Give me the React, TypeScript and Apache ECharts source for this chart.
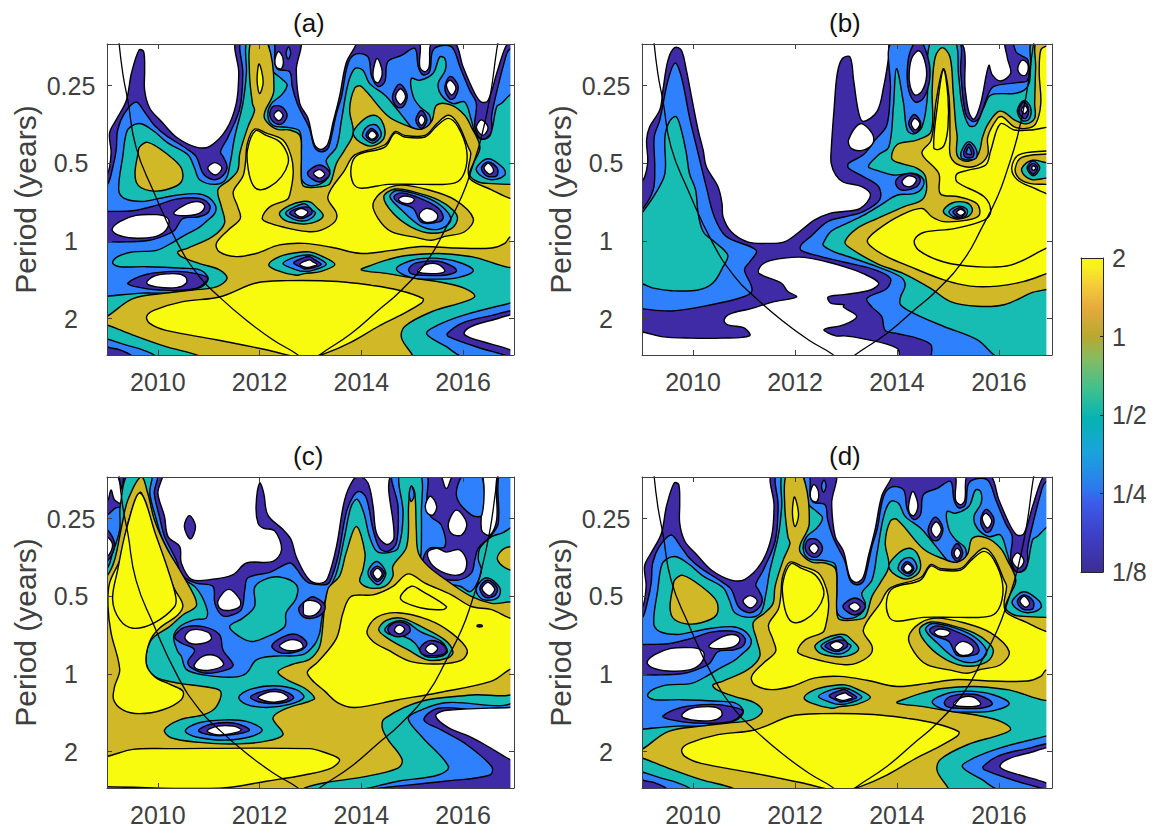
import React, { useEffect, useRef } from "react";
import * as echarts from "echarts";

// Levels of the filled contours (coherence 1/8, 1/4, 1/2, 1, 2, and below 1/8)
const D = 0, B = 1, T = 2, O = 3, Y = 4, W = 5;
const levelColors = ["#3f2ba6", "#2f80fd", "#17bdb3", "#d0b827", "#f9fb0e", "#ffffff"];

const yearTicks = [2010, 2012, 2014, 2016];
const periodTicks = [0.25, 0.5, 1, 2];
const barTicks = [-3, -2, -1, 0, 1];
const barStops = [
  [0, "#3d2d95"], [0.12, "#3e3fc8"], [0.22, "#3c5ce8"], [0.27, "#2c7bee"], [0.38, "#1aa3dc"], [0.49, "#05b3b2"],
  [0.58, "#3dc190"], [0.68, "#86bb62"], [0.75, "#b8a82f"], [0.84, "#e5aa3c"], [0.92, "#f6cf36"], [0.97, "#f8ee20"], [1, "#f8f812"],
];

// Cone of influence: year, log2(period)
const coiLeft = [2009.23, -2.6, 2009.31, -2.16, 2009.41, -1.81, 2009.57, -1.21, 2009.9, -0.66, 2010.39, 0.03, 2010.82, 0.46, 2011.21, 0.72, 2011.74, 1.02, 2012.26, 1.27, 2012.72, 1.45, 2012.9, 1.55];
const coiRight = [2013.0, 1.55, 2013.21, 1.45, 2013.8, 1.19, 2014.3, 0.91, 2014.79, 0.63, 2015.31, 0.24, 2015.67, -0.18, 2015.97, -0.57, 2016.16, -0.91, 2016.36, -1.34, 2016.53, -1.86, 2016.66, -2.46, 2016.7, -2.6];

// Panel (a): contour outlines as year, log2(period)
const aDark = [2008.82,-0.85,2009,-0.85,2009.08,-1.13,2009.05,-1.39,2009.18,-1.56,2009.38,-1.81,2009.48,-2.16,2009.63,-2.46,2009.72,-2.44,2009.74,-2.2,2009.74,-1.94,2009.84,-1.71,2010.07,-1.54,2010.36,-1.34,2010.75,-1.21,2011.02,-1.22,2011.34,-1.43,2011.54,-1.77,2011.59,-2.16,2011.57,-2.59,2012.77,-2.59,2012.72,-2.2,2012.79,-1.77,2012.95,-1.58,2013.08,-1.24,2013.21,-1.18,2013.34,-1.25,2013.44,-1.52,2013.57,-1.86,2013.7,-2.29,2013.84,-2.46,2013.97,-2.57,2015.1,-2.57,2015.15,-2.24,2015.25,-2.18,2015.33,-2.24,2015.39,-2.57,2015.82,-2.57,2016,-2.24,2016.23,-1.9,2016.36,-1.79,2016.49,-1.81,2016.66,-2.16,2016.82,-2.48,2016.92,-2.57,2017.1,-2.6,2017.1,1.6,2008.82,1.6];
const aBlue = [2008.82,-0.7,2009,-0.72,2009.11,-0.94,2009.18,-1.17,2009.21,-1.43,2009.34,-1.64,2009.57,-1.79,2009.74,-1.66,2009.93,-1.49,2010.16,-1.36,2010.56,-1.19,2010.75,-1.09,2010.87,-0.89,2010.95,-0.83,2011.12,-0.79,2011.29,-0.85,2011.36,-0.96,2011.28,-1.09,2011.23,-1.15,2011.38,-1.34,2011.61,-1.71,2011.67,-2.16,2011.65,-2.59,2012.25,-2.59,2012.3,-2.29,2012.36,-2.21,2012.59,-2.18,2012.64,-1.99,2012.74,-1.77,2012.85,-1.62,2012.98,-1.45,2013.08,-1.21,2013.21,-1.15,2013.34,-1.19,2013.41,-1.34,2013.51,-1.64,2013.61,-1.86,2013.74,-2.29,2013.9,-2.41,2014.13,-2.37,2014.2,-2.12,2014.33,-1.99,2014.46,-2.05,2014.52,-2.31,2014.79,-2.39,2015.05,-2.48,2015.12,-2.24,2015.21,-2.14,2015.34,-2.18,2015.41,-2.46,2015.64,-2.52,2015.8,-2.48,2015.94,-2.24,2016.13,-1.94,2016.26,-1.77,2016.23,-1.47,2016.36,-1.31,2016.55,-1.39,2016.56,-1.6,2016.62,-1.81,2016.82,-2.33,2016.9,-2.46,2017.08,-2.5,2017.1,1.6,2009.51,1.6,2009.51,1.49,2009.25,1.4,2009,1.36,2008.82,1.25];
const aTeal = [2009.23,-0.66,2009.31,-1.09,2009.38,-1.39,2009.48,-1.48,2009.67,-1.51,2009.93,-1.41,2010.2,-1.26,2010.59,-1.11,2010.72,-0.94,2010.82,-0.79,2011.12,-0.73,2011.33,-0.79,2011.42,-1,2011.51,-1.34,2011.67,-1.77,2011.74,-2.16,2011.76,-2.59,2012.13,-2.59,2012.25,-2.2,2012.43,-2.09,2012.54,-2.01,2012.43,-1.88,2012.23,-1.77,2012.16,-1.62,2012.26,-1.49,2012.59,-1.46,2012.79,-1.41,2012.82,-1.09,2012.82,-0.81,2012.95,-0.72,2013.18,-0.73,2013.34,-0.81,2013.38,-0.91,2013.31,-1.04,2013.51,-1.21,2013.61,-1.56,2013.74,-2.03,2013.87,-2.22,2014.03,-2.2,2014.16,-2.03,2014.46,-1.88,2014.66,-1.73,2014.89,-1.54,2015.02,-1.44,2015.18,-1.41,2015.33,-1.46,2015.34,-1.62,2015.15,-1.73,2015.02,-1.86,2014.98,-2.09,2015.15,-2.07,2015.41,-2.16,2015.54,-2.37,2015.64,-2.35,2015.65,-2.2,2015.51,-2.03,2015.57,-1.88,2015.8,-1.77,2016.03,-1.79,2016.16,-1.56,2016.24,-1.39,2016.36,-1.31,2016.53,-1.36,2016.66,-1.73,2016.75,-1.77,2016.92,-1.88,2017.08,-1.94,2017.1,1.6,2009.97,1.6,2009.97,1.49,2009.7,1.4,2009.38,1.34,2009,1.26,2008.82,1.23,2008.82,0.72,2009,0.71,2009.7,0.67,2010.16,0.67,2010.49,0.64,2010.79,0.61,2010.95,0.54,2010.98,0.46,2010.82,0.37,2010.49,0.35,2009.77,0.33,2009.25,0.33,2009.11,0.28,2009.21,0.2,2009.51,0.14,2009.97,0.12,2010.26,0.03,2010.49,-0.06,2010.82,-0.18,2010.95,-0.25,2011.12,-0.36,2011.13,-0.46,2010.98,-0.57,2010.75,-0.61,2010.36,-0.59,2010.03,-0.55,2009.7,-0.51,2009.34,-0.55];
const aOlive = [2011.84,-2.59,2011.8,-2.16,2011.86,-1.77,2011.9,-1.68,2011.77,-1.47,2011.61,-1.13,2011.57,-0.91,2011.41,-0.79,2011.18,-0.66,2011.25,-0.44,2011.31,-0.23,2011.08,-0.06,2010.59,0.09,2010.39,0.14,2010.46,0.2,2010.82,0.29,2011.21,0.37,2011.36,0.48,2011.15,0.59,2010.69,0.63,2010.16,0.67,2009.51,0.74,2009,0.97,2008.82,1,2008.82,1.06,2009,1.08,2009.51,1.21,2010.16,1.36,2010.85,1.49,2010.9,1.6,2015.02,1.6,2015.02,1.49,2014.79,1.25,2014.85,1.1,2015.38,0.91,2016.03,0.78,2016.23,0.71,2016.03,0.61,2015.64,0.54,2015.05,0.48,2014.52,0.42,2014,0.37,2014.2,0.31,2014.52,0.24,2014.85,0.19,2015.51,0.16,2016.16,0.2,2017.08,0.3,2017.08,-0.74,2016.92,-0.73,2016.56,-0.74,2016.3,-0.76,2016.13,-0.85,2016.2,-1,2016.33,-1.21,2016.16,-1.47,2016.03,-1.62,2015.77,-1.75,2015.48,-1.75,2015.38,-1.54,2015.18,-1.44,2014.92,-1.48,2014.52,-1.61,2014,-1.99,2013.87,-1.97,2013.77,-1.69,2013.84,-1.39,2013.67,-1.17,2013.51,-1,2013.38,-0.74,2013.21,-0.7,2012.88,-0.7,2012.82,-0.79,2012.82,-1.13,2012.79,-1.36,2012.59,-1.43,2012.33,-1.44,2012.11,-1.56,2012.1,-1.66,2012.28,-1.94,2012.13,-2.59];
const aYellow = [2011.9,-1.44,2012.13,-1.39,2012.46,-1.3,2012.62,-1.09,2012.66,-0.87,2012.59,-0.59,2012.53,-0.53,2012.2,-0.44,2012.05,-0.29,2012.2,-0.23,2012.59,-0.16,2012.98,-0.12,2013.21,-0.14,2013.48,-0.25,2013.51,-0.36,2013.34,-0.57,2013.67,-0.91,2013.87,-1.11,2014.46,-1.24,2014.66,-1.41,2014.85,-1.36,2015.25,-1.36,2015.48,-1.51,2015.71,-1.62,2015.9,-1.51,2016.1,-1.21,2016.15,-1.13,2016.1,-0.91,2016.15,-0.79,2016.56,-0.66,2016.92,-0.55,2017.08,-0.53,2017.08,-0.06,2016.92,-0.05,2016.82,0.03,2016.56,0.09,2015.84,0.09,2015.18,0.07,2014.59,0.12,2014,0.16,2013.41,0.08,2012.88,0.03,2012.39,0.05,2011.93,0.16,2011.54,0.2,2011.21,0.14,2011.15,0.03,2011.38,-0.14,2011.62,-0.29,2011.57,-0.44,2011.48,-0.63,2011.67,-0.83,2011.72,-1,2011.76,-1.26];
const aYellowLow = [2009.78,0.97,2009.93,0.89,2010.49,0.78,2011.21,0.72,2011.93,0.54,2012.53,0.51,2013.54,0.52,2014.2,0.57,2014.72,0.63,2015.21,0.74,2015.18,0.8,2014.72,0.97,2014.33,1.1,2013.8,1.3,2013.28,1.45,2013.02,1.49,2012.72,1.49,2012.13,1.4,2011.15,1.27,2010.16,1.15,2009.84,1.06];
const aIslands: [number, number[]][] = [
  [D,[2008.82,-0.37,2009,-0.38,2009.51,-0.39,2009.97,-0.46,2010.36,-0.54,2010.82,-0.55,2011.02,-0.46,2010.98,-0.36,2010.79,-0.31,2010.49,-0.29,2010.33,-0.14,2010.16,-0.08,2009.84,-0.01,2009.38,0.01,2009,0.01,2008.82,0.01]],
  [W,[2009.1,-0.15,2009.25,-0.25,2009.57,-0.33,2009.97,-0.34,2010.16,-0.31,2010.22,-0.24,2010.13,-0.12,2009.9,-0.05,2009.51,-0.04,2009.21,-0.08]],
  [W,[2010.31,-0.36,2010.46,-0.44,2010.66,-0.5,2010.85,-0.5,2010.92,-0.44,2010.82,-0.36,2010.62,-0.33,2010.39,-0.33]],
  [W,[2010.98,-0.94,2011.12,-1.01,2011.26,-0.94,2011.13,-0.85]],
  [W,[2012.3,-2.33,2012.37,-2.44,2012.46,-2.35,2012.43,-2.22,2012.33,-2.24]],
  [B,[2012.57,-2.5,2012.61,-2.42,2012.56,-2.34,2012.52,-2.42]],
  [D,[2012.2,-1.62,2012.26,-1.73,2012.43,-1.73,2012.54,-1.62,2012.44,-1.51,2012.3,-1.52]],
  [W,[2012.28,-1.62,2012.37,-1.68,2012.46,-1.62,2012.38,-1.55]],
  [O,[2009.55,-0.87,2009.61,-1.13,2009.64,-1.21,2009.8,-1.27,2010.16,-1.13,2010.46,-0.94,2010.46,-0.76,2010.16,-0.66,2009.84,-0.65,2009.61,-0.72]],
  [Y,[2011.92,-1.42,2012.13,-1.36,2012.39,-1.28,2012.54,-1.13,2012.56,-1,2012.43,-0.83,2012.2,-0.7,2012,-0.66,2011.87,-0.72,2011.78,-0.91,2011.76,-1.17]],
  [Y,[2014.66,-1.39,2014.85,-1.34,2015.25,-1.34,2015.48,-1.48,2015.71,-1.58,2015.9,-1.47,2016.07,-1.17,2016.03,-0.89,2015.84,-0.75,2015.18,-0.73,2014.52,-0.73,2014,-0.68,2013.84,-0.74,2013.8,-0.96,2013.93,-1.11,2014.46,-1.21]],
  [Y,[2011.99,-2.28,2012.07,-2.05,2012,-1.9,2011.95,-2.07]],
  [O,[2014.23,-0.48,2014.46,-0.66,2014.79,-0.72,2015.31,-0.66,2015.84,-0.53,2016.2,-0.29,2016.03,-0.12,2015.64,-0.06,2015.38,-0.01,2015.05,-0.05,2014.59,-0.12,2014.33,-0.29]],
  [T,[2014.44,-0.57,2014.66,-0.67,2015.05,-0.63,2015.51,-0.53,2015.8,-0.4,2015.89,-0.29,2015.77,-0.16,2015.38,-0.1,2014.98,-0.18,2014.62,-0.36]],
  [B,[2014.56,-0.57,2014.69,-0.65,2015.05,-0.61,2015.44,-0.51,2015.71,-0.36,2015.75,-0.25,2015.51,-0.15,2015.15,-0.2,2014.79,-0.4]],
  [D,[2014.64,-0.57,2014.79,-0.62,2015.08,-0.57,2015.48,-0.44,2015.61,-0.31,2015.54,-0.25,2015.18,-0.24,2015.02,-0.42,2014.75,-0.49]],
  [W,[2014.73,-0.54,2014.85,-0.58,2015.04,-0.54,2014.98,-0.49,2014.82,-0.49]],
  [W,[2015.15,-0.36,2015.31,-0.42,2015.49,-0.35,2015.47,-0.27,2015.28,-0.24,2015.16,-0.29]],
  [T,[2012.39,-0.36,2012.59,-0.46,2012.85,-0.51,2013,-0.5,2013.11,-0.44,2013.25,-0.33,2013.11,-0.25,2012.88,-0.22,2012.72,-0.23,2012.49,-0.27]],
  [B,[2012.51,-0.36,2012.69,-0.44,2012.89,-0.48,2013.03,-0.4,2013.1,-0.36,2012.95,-0.27,2012.72,-0.27]],
  [D,[2012.59,-0.36,2012.79,-0.43,2012.98,-0.43,2013.03,-0.36,2012.92,-0.31,2012.79,-0.29]],
  [W,[2012.69,-0.37,2012.82,-0.42,2012.95,-0.37,2012.82,-0.31]],
  [T,[2012.18,0.3,2012.39,0.2,2012.72,0.15,2012.98,0.14,2013.21,0.19,2013.48,0.3,2013.21,0.39,2012.88,0.42,2012.72,0.44,2012.31,0.37]],
  [B,[2012.46,0.29,2012.72,0.2,2012.98,0.18,2013.15,0.22,2013.31,0.3,2013.08,0.37,2012.88,0.39,2012.72,0.37]],
  [D,[2012.67,0.28,2012.85,0.22,2012.98,0.2,2013.08,0.24,2013.21,0.3,2013.08,0.34,2012.88,0.36,2012.85,0.35]],
  [W,[2012.79,0.3,2012.98,0.24,2013.05,0.27,2013.13,0.3,2013.02,0.33,2012.92,0.34]],
  [B,[2014.69,0.36,2014.98,0.25,2015.44,0.22,2015.9,0.27,2016.2,0.38,2015.9,0.47,2015.44,0.49,2014.98,0.47]],
  [D,[2014.93,0.36,2015.08,0.28,2015.51,0.26,2015.8,0.33,2015.87,0.39,2015.64,0.44,2015.18,0.44,2014.98,0.42]],
  [W,[2015.11,0.39,2015.28,0.3,2015.51,0.3,2015.64,0.39,2015.38,0.42]],
  [D,[2009.41,0.54,2009.77,0.43,2010.36,0.39,2010.75,0.42,2010.98,0.48,2010.75,0.61,2010.03,0.63,2009.51,0.58]],
  [W,[2009.78,0.54,2009.93,0.45,2010.36,0.42,2010.54,0.46,2010.56,0.54,2010.36,0.6,2009.97,0.59]],
  [D,[2015.07,-1.56,2015.18,-1.68,2015.29,-1.56,2015.18,-1.45]],
  [W,[2015.12,-1.56,2015.18,-1.62,2015.25,-1.56,2015.18,-1.49]],
  [D,[2014.61,-1.86,2014.75,-2.02,2014.9,-1.88,2014.82,-1.73,2014.69,-1.73]],
  [W,[2014.67,-1.86,2014.77,-1.96,2014.87,-1.86,2014.77,-1.76]],
  [D,[2015.64,-1.98,2015.75,-2.12,2015.9,-2,2015.84,-1.85,2015.74,-1.83]],
  [W,[2015.67,-2.01,2015.75,-2.07,2015.86,-1.97,2015.77,-1.88]],
  [W,[2014.23,-2.18,2014.31,-2.35,2014.41,-2.18,2014.34,-2.04,2014.25,-2.07]],
  [W,[2016.26,-1.46,2016.36,-1.56,2016.49,-1.46,2016.39,-1.36]],
  [T,[2013.84,-1.38,2014,-1.54,2014.23,-1.62,2014.39,-1.56,2014.46,-1.36,2014.3,-1.24,2014.07,-1.24]],
  [B,[2014.02,-1.36,2014.13,-1.48,2014.3,-1.49,2014.39,-1.36,2014.23,-1.26,2014.1,-1.3]],
  [D,[2014.09,-1.36,2014.2,-1.45,2014.33,-1.36,2014.22,-1.29]],
  [W,[2014.13,-1.36,2014.21,-1.42,2014.3,-1.36,2014.21,-1.31]],
  [D,[2012.94,-0.87,2013.18,-0.98,2013.38,-0.87,2013.18,-0.76]],
  [W,[2013.06,-0.87,2013.18,-0.92,2013.28,-0.86,2013.18,-0.81]],
  [B,[2016.26,-0.94,2016.49,-1.06,2016.79,-0.94,2016.82,-0.85,2016.56,-0.79,2016.33,-0.85]],
  [D,[2016.36,-0.94,2016.49,-1.02,2016.67,-0.94,2016.66,-0.84,2016.46,-0.84]],
  [W,[2016.41,-0.94,2016.5,-1,2016.6,-0.91,2016.52,-0.86]],
  [B,[2015.28,1.19,2015.51,1.08,2016.03,0.95,2016.92,0.8,2017.08,0.78,2017.08,1.55,2016,1.49,2015.67,1.36]],
  [D,[2015.69,1.19,2015.97,1.06,2016.49,0.97,2017.08,0.93,2017.08,1.55,2016.92,1.49,2016.3,1.37,2015.71,1.23]],
  [W,[2016.02,1.18,2016.16,1.1,2016.56,1.02,2017.08,0.97,2017.08,1.47,2016.92,1.4,2016.41,1.3,2016.09,1.23]],
];

// Panel (b)
const bDark = [2008.83,-0.74,2009,-0.76,2009.11,-1,2009.09,-1.3,2009.15,-1.47,2009.35,-1.69,2009.41,-1.94,2009.51,-2.33,2009.64,-2.49,2009.77,-2.46,2009.87,-2.2,2009.97,-1.86,2010.1,-1.43,2010.2,-1.17,2010.26,-0.96,2010.49,-0.7,2010.57,-0.48,2010.59,-0.31,2010.75,-0.12,2011.07,0.01,2011.46,0.03,2011.79,0.01,2012.05,-0.1,2012.38,-0.27,2012.7,-0.36,2012.96,-0.38,2013.28,-0.42,2013.48,-0.59,2013.31,-0.7,2012.95,-0.76,2012.8,-0.85,2012.71,-1,2012.71,-1.17,2012.77,-1.73,2012.83,-2.16,2012.93,-2.35,2013.08,-2.37,2013.15,-2.07,2013.25,-1.65,2013.34,-1.54,2013.61,-1.67,2013.74,-1.99,2013.84,-2.37,2013.9,-2.59,2015.21,-2.59,2015.34,-1.94,2015.41,-1.66,2015.51,-1.57,2015.64,-1.77,2015.8,-2.26,2015.87,-2.14,2016.03,-2.06,2016.23,-2.16,2016.16,-2.37,2016.15,-2.59,2017.15,-2.59,2017.15,1.55,2008.83,1.55];
const bWhiteLow = [2008.83,1.17,2009,1.17,2009.38,1.23,2009.97,1.25,2010.55,1.25,2011.11,1.22,2011.01,1.12,2010.68,1.08,2010.61,1.02,2010.72,0.94,2011.14,0.87,2011.59,0.78,2012.03,0.72,2011.86,0.65,2011.73,0.54,2011.3,0.42,2011.3,0.35,2011.43,0.27,2011.79,0.22,2012.18,0.21,2012.64,0.27,2012.96,0.33,2013.34,0.42,2013.64,0.54,2013.48,0.63,2012.95,0.69,2012.65,0.72,2012.7,0.8,2012.96,0.82,2012.95,0.85,2013.21,0.97,2012.95,1.08,2012.57,1.14,2012.8,1.22,2012.96,1.22,2013.28,1.25,2014,1.38,2013.99,1.53,2008.83,1.53];
const bBlueLeft = [2008.83,-0.33,2009,-0.4,2009.22,-0.66,2009.25,-0.96,2009.24,-1.34,2009.35,-1.56,2009.51,-2.07,2009.65,-2.29,2009.77,-2.12,2009.93,-1.6,2010.1,-1.13,2010.26,-0.7,2010.42,-0.31,2010.65,-0.06,2011.24,0.12,2011.11,0.27,2011.01,0.37,2011.14,0.57,2011.15,0.65,2010.98,0.72,2010.36,0.82,2009.58,0.9,2009,0.87,2008.83,0.85];
const bTealLeft = [2008.83,-0.23,2009,-0.36,2009.28,-0.63,2009.45,-0.87,2009.45,-1.34,2009.54,-1.54,2009.67,-1.6,2009.77,-1.43,2009.87,-1.13,2009.93,-0.87,2010.05,-0.66,2010.1,-0.36,2010.2,-0.12,2010.42,0.01,2010.68,0.18,2010.59,0.33,2010.39,0.54,2010.1,0.63,2009.58,0.64,2009.25,0.61,2009,0.55,2008.83,0.52];
const bBlue = [2012.12,0.05,2012.31,-0.06,2012.64,-0.25,2012.96,-0.31,2013.34,-0.38,2013.66,-0.53,2013.64,-0.7,2013.34,-0.83,2013.05,-0.94,2013.05,-1,2013.34,-1.11,2013.57,-1.3,2013.8,-1.49,2013.87,-1.94,2013.93,-2.59,2015.18,-2.59,2015.25,-2.16,2015.34,-1.66,2015.48,-1.54,2015.61,-1.58,2015.77,-1.86,2015.9,-1.99,2016.36,-2.04,2016.56,-2.07,2016.57,-2.33,2016.43,-2.39,2016.33,-2.44,2016.31,-2.59,2017.15,-2.59,2017.15,1.55,2014.71,1.55,2014.67,1.34,2014.39,1.25,2014,1.19,2013.77,1.15,2013.7,0.97,2013.51,0.85,2013.41,0.74,2013.8,0.61,2013.87,0.48,2013.57,0.37,2012.95,0.27,2012.51,0.2,2012.12,0.12];
const bTeal = [2012.56,0.02,2012.7,-0.12,2012.96,-0.21,2013.34,-0.33,2013.67,-0.46,2014,-0.59,2014.33,-0.61,2014.49,-0.68,2014.52,-0.79,2014.33,-0.87,2013.93,-0.85,2013.61,-0.91,2013.44,-0.96,2013.64,-1.11,2013.84,-1.21,2013.93,-1.73,2013.99,-2.22,2014.13,-1.77,2014.2,-1.43,2014.33,-1.38,2014.49,-1.47,2014.59,-1.81,2014.67,-2.59,2015.12,-2.59,2015.21,-2.12,2015.28,-1.73,2015.41,-1.49,2015.54,-1.49,2015.71,-1.73,2015.84,-1.88,2016.3,-1.9,2016.49,-1.94,2016.59,-2.03,2016.62,-2.24,2016.66,-2.59,2017.15,-2.59,2017.15,1.55,2016.07,1.53,2015.57,1.27,2014.92,1.1,2014.33,0.93,2014.07,0.82,2014.07,0.72,2014.16,0.57,2014.07,0.46,2013.61,0.33,2012.95,0.18,2012.77,0.14,2012.56,0.06];
const bOlive = [2013.9,-1.06,2014,-1.24,2014.39,-1.3,2014.67,-1.41,2014.69,-1.94,2014.75,-2.37,2014.89,-2.49,2015.04,-2.37,2015.1,-1.94,2015.15,-1.51,2015.18,-1.34,2015.17,-1.13,2015.25,-1.05,2015.41,-1.03,2015.57,-1.09,2015.64,-1.21,2015.67,-1.32,2015.77,-1.49,2015.97,-1.66,2016.1,-1.66,2016.3,-1.56,2016.53,-1.51,2016.7,-1.58,2016.7,-1.77,2016.72,-2.24,2016.74,-2.59,2017.15,-2.59,2017.15,0.52,2016.62,0.67,2016.1,0.82,2015.57,0.84,2015.05,0.78,2014.66,0.61,2014.13,0.42,2013.61,0.29,2013.08,0.09,2012.98,0.01,2013.21,-0.16,2013.61,-0.29,2014.13,-0.44,2014.52,-0.55,2014.56,-0.83,2014.39,-0.94,2014.13,-0.99];
const bYellow = [2013.42,-0.01,2013.61,-0.14,2014.07,-0.33,2014.49,-0.42,2014.69,-0.31,2014.92,-0.25,2015.38,-0.27,2015.61,-0.33,2015.57,-0.48,2015.21,-0.57,2014.85,-0.61,2014.82,-0.87,2014.49,-1.13,2014.67,-1.3,2014.77,-1.81,2014.91,-2.22,2015.02,-1.86,2015.04,-1.34,2015.05,-1.09,2015.25,-0.97,2015.57,-0.97,2015.78,-1.11,2015.78,-1.34,2015.97,-1.58,2016.07,-1.6,2016.3,-1.47,2016.53,-1.45,2016.72,-1.51,2016.82,-1.77,2016.79,-2.16,2016.82,-2.46,2016.93,-2.51,2017.15,-2.55,2017.15,0.37,2016.93,0.42,2016.49,0.52,2015.97,0.58,2015.44,0.58,2014.92,0.5,2014.26,0.33,2013.8,0.2,2013.51,0.08];
const bIslands: [number, number[]][] = [
  [Y,[2014.72,-1.2,2014.79,-1.73,2014.91,-2.21,2015,-1.86,2015,-1.47,2014.93,-1.24,2014.82,-1.18]],
  [Y,[2014.34,-0.01,2014.52,-0.11,2015.12,-0.16,2015.71,-0.27,2015.84,-0.38,2015.71,-0.57,2015.18,-0.76,2015.17,-0.86,2015.38,-0.91,2015.74,-0.98,2015.84,-1.17,2016.03,-1.51,2016.3,-1.43,2016.62,-1.43,2017.15,-1.43,2017.15,0.03,2016.93,0.09,2016.23,0.31,2015.57,0.33,2014.92,0.27,2014.43,0.12]],
  [Y,[2016.25,-0.94,2016.39,-1.11,2016.93,-1.16,2017.15,-1.16,2017.15,-0.53,2016.93,-0.61,2016.69,-0.68,2016.36,-0.79]],
  [O,[2016.32,-0.94,2016.46,-1.08,2016.93,-1.12,2017.15,-1.12,2017.15,-0.72,2016.93,-0.73,2016.62,-0.74,2016.39,-0.81]],
  [T,[2016.45,-0.94,2016.66,-1.04,2016.93,-1.01,2017.15,-1.01,2017.15,-0.81,2016.93,-0.81,2016.66,-0.79,2016.49,-0.85]],
  [B,[2016.55,-0.94,2016.67,-1.03,2016.8,-0.94,2016.67,-0.84]],
  [D,[2016.58,-0.94,2016.67,-1,2016.76,-0.94,2016.67,-0.86]],
  [W,[2016.64,-0.94,2016.68,-0.97,2016.72,-0.94,2016.68,-0.91]],
  [T,[2014.91,-0.38,2015.08,-0.49,2015.38,-0.49,2015.48,-0.4,2015.38,-0.31,2015.12,-0.29]],
  [B,[2015.02,-0.38,2015.21,-0.45,2015.38,-0.4,2015.33,-0.31,2015.12,-0.31]],
  [D,[2015.1,-0.38,2015.25,-0.43,2015.34,-0.37,2015.26,-0.31,2015.17,-0.32]],
  [W,[2015.17,-0.37,2015.25,-0.41,2015.33,-0.37,2015.25,-0.33]],
  [B,[2015.26,-1.15,2015.41,-1.28,2015.56,-1.17,2015.54,-1.06,2015.28,-1.06]],
  [D,[2015.31,-1.15,2015.41,-1.25,2015.51,-1.15,2015.48,-1.08,2015.34,-1.08]],
  [B,[2015.36,-1.13,2015.41,-1.21,2015.46,-1.12]],
  [B,[2016.36,-1.68,2016.49,-1.81,2016.62,-1.72,2016.59,-1.57,2016.46,-1.55]],
  [D,[2016.39,-1.69,2016.49,-1.79,2016.58,-1.7,2016.53,-1.58,2016.44,-1.6]],
  [W,[2016.44,-1.69,2016.51,-1.74,2016.56,-1.69,2016.5,-1.64]],
  [D,[2013.97,-0.76,2014.1,-0.85,2014.36,-0.86,2014.46,-0.79,2014.36,-0.69,2014.07,-0.66]],
  [W,[2014.1,-0.77,2014.23,-0.84,2014.38,-0.8,2014.3,-0.71,2014.16,-0.71]],
  [D,[2014.23,-1.51,2014.34,-1.63,2014.47,-1.51,2014.36,-1.39]],
  [W,[2014.28,-1.51,2014.35,-1.58,2014.45,-1.51,2014.36,-1.43]],
  [D,[2014.2,-2.18,2014.26,-2.44,2014.43,-2.6,2014.62,-2.33,2014.64,-2.07,2014.52,-1.84,2014.36,-1.79,2014.23,-1.94]],
  [W,[2014.24,-2.18,2014.3,-2.37,2014.43,-2.45,2014.54,-2.33,2014.58,-2.12,2014.49,-1.93,2014.36,-1.88,2014.26,-1.99]],
  [W,[2013.05,-1.3,2013.28,-1.51,2013.51,-1.39,2013.53,-1.26,2013.34,-1.17,2013.11,-1.19]],
  [W,[2016.37,-2.23,2016.46,-2.33,2016.57,-2.27,2016.53,-2.14,2016.43,-2.14]],
];

// Panel (c)
const cDark = [2008.82,-2.22,2009,-2.22,2009.08,-2.37,2009.15,-2.24,2009.3,-2.2,2009.31,-2.33,2009.25,-2.59,2010.07,-2.59,2010,-2.33,2010.13,-2.03,2010.2,-1.77,2010.43,-1.64,2010.46,-1.43,2010.66,-1.22,2011.08,-1.22,2011.48,-1.28,2011.74,-1.43,2012.26,-1.45,2012.43,-1.6,2012.3,-1.84,2012.07,-1.88,2011.97,-1.94,2011.93,-2.16,2012,-2.46,2012.08,-2.33,2012.16,-2.05,2012.46,-1.86,2012.62,-1.73,2012.72,-1.51,2012.98,-1.21,2013.21,-1.17,2013.34,-1.24,2013.51,-1.64,2013.67,-2.24,2013.84,-2.5,2013.97,-2.54,2014.13,-2.46,2014.23,-2.16,2014.3,-1.81,2014.49,-1.67,2014.64,-1.75,2014.6,-2.59,2015.51,-2.59,2015.67,-2.39,2015.84,-2.59,2016.36,-2.59,2016.36,-1.86,2016.53,-1.79,2016.66,-1.99,2016.69,-2.59,2017.08,-2.59,2017.08,1.6,2008.82,1.6];
const cBlue = [2008.82,-2.05,2009,-2.05,2009.17,-2.14,2009.3,-2.16,2009.38,-2.59,2009.98,-2.59,2009.93,-2.33,2010.03,-2.03,2010.13,-1.77,2010.26,-1.6,2010.36,-1.47,2010.49,-1.26,2010.75,-1.17,2011.08,-1.13,2011.12,-0.91,2011.25,-0.76,2011.41,-0.75,2011.64,-0.83,2011.71,-1.09,2011.77,-1.24,2012.2,-1.31,2012.59,-1.43,2012.72,-1.36,2012.85,-1.24,2012.98,-1.17,2013.28,-1.15,2013.38,-1.19,2013.54,-1.51,2013.7,-2.07,2013.84,-2.29,2013.97,-2.35,2014.1,-2.26,2014.23,-1.86,2014.36,-1.62,2014.52,-1.58,2014.69,-1.69,2014.72,-2.16,2014.62,-2.59,2015.26,-2.59,2015.29,-2.2,2015.36,-2.03,2015.57,-1.92,2015.64,-1.64,2015.34,-1.62,2015.21,-1.47,2015.25,-1.32,2015.51,-1.24,2015.9,-1.21,2016.16,-1.3,2016.23,-1.47,2016.3,-1.62,2016.53,-1.77,2016.69,-1.94,2016.72,-2.59,2017.08,-2.59,2017.08,0.37,2015.51,0.44,2015.23,0.59,2015.57,0.72,2016.03,0.89,2016.56,1.19,2016.53,1.3,2015.64,1.38,2014.2,1.48,2014.03,1.51,2008.82,1.51];
const cTeal = [2008.82,-1.34,2009,-1.36,2009.11,-1.56,2009.25,-1.86,2009.26,-2.16,2009.43,-2.59,2009.87,-2.59,2009.84,-2.33,2009.97,-1.99,2010.07,-1.77,2010.26,-1.51,2010.43,-1.26,2010.75,-1.11,2010.95,-0.87,2010.95,-0.72,2010.72,-0.7,2010.43,-0.61,2010.31,-0.48,2010.39,-0.29,2010.46,-0.23,2010.56,-0.06,2010.89,0.01,2011.48,0.04,2011.74,-0.01,2011.93,-0.18,2012.26,-0.23,2012.85,-0.25,2013.08,-0.38,2013.18,-0.53,2013.21,-0.66,2013.31,-1,2013.51,-1.3,2013.67,-1.77,2013.8,-2.16,2013.92,-2.25,2014.05,-2.07,2014.16,-1.77,2014.3,-1.58,2014.49,-1.56,2014.72,-1.62,2014.82,-2.07,2014.75,-2.59,2015.15,-2.59,2015.18,-2.07,2015.18,-1.64,2015.18,-1.3,2015.44,-1.19,2015.94,-1.13,2016.13,-1.06,2016.26,-1.15,2016.36,-1.34,2016.3,-1.47,2016.33,-1.62,2016.56,-1.77,2016.75,-1.81,2017.08,-1.9,2017.08,0.29,2015.64,0.37,2015.18,0.46,2014.92,0.57,2015.18,0.8,2015.71,1.19,2015.51,1.3,2014.72,1.38,2013.7,1.51,2008.82,1.51];
const cOlive = [2008.82,-1.17,2009,-1.26,2009.15,-1.47,2009.3,-1.94,2009.41,-2.24,2009.67,-2.54,2009.8,-2.33,2009.93,-1.99,2010.16,-1.64,2010.43,-1.34,2010.72,-1,2010.75,-0.87,2010.49,-0.76,2010.23,-0.61,2009.87,-0.44,2009.77,-0.14,2009.93,0.03,2010.43,0.12,2010.89,0.16,2011.23,0.22,2011.15,0.42,2010.92,0.52,2010.43,0.59,2010.13,0.72,2010.26,0.82,2010.82,0.88,2011.48,0.9,2012.07,0.87,2012.46,0.78,2012.26,0.57,2012.46,0.46,2012.98,0.35,2013.08,0.31,2012.88,0.18,2012.53,0.07,2012.36,-0.03,2012.62,-0.12,2012.98,-0.19,2013.15,-0.31,2013.21,-0.44,2013.34,-1.09,2013.57,-1.26,2013.7,-1.56,2013.9,-1.9,2014.07,-1.56,2014.03,-1.34,2013.97,-1.19,2014.16,-1.11,2014.46,-1.13,2014.62,-1.26,2014.62,-1.39,2014.89,-1.64,2014.93,-2.2,2014.98,-2.42,2015.05,-2.33,2015.08,-1.86,2015.12,-1.56,2015.31,-1.39,2015.71,-1.19,2016.16,-1,2016.56,-0.91,2017.08,-0.89,2017.08,0.2,2016.16,0.27,2015.18,0.35,2014.46,0.57,2014.41,0.69,2014.52,0.84,2014.8,1.1,2014.72,1.21,2014.07,1.32,2013.28,1.4,2012.88,1.47,2012.8,1.55,2008.82,1.55];
const cYellowLeft = [2009.65,-2.34,2009.77,-2.12,2009.93,-1.77,2010.1,-1.43,2010.33,-1.09,2010.49,-0.89,2010.39,-0.76,2010.03,-0.59,2009.84,-0.42,2009.77,-0.14,2009.93,0.03,2010.26,0.14,2010.49,0.22,2010.46,0.33,2010.1,0.46,2009.64,0.51,2009.31,0.46,2009.13,0.33,2009.15,0.16,2009.25,-0.06,2009.08,-0.53,2009.02,-0.87,2009.05,-1.17,2009.28,-1.51,2009.41,-1.94];
const cYellow = [2012.94,-0.03,2013.15,-0.16,2013.51,-0.46,2013.64,-0.79,2013.8,-1,2014.23,-1.02,2014.62,-1.13,2014.92,-1.29,2015.25,-1.17,2015.77,-1.02,2016.16,-0.87,2016.56,-0.83,2016.92,-0.72,2017.08,-0.71,2017.08,-0.08,2016.92,-0.06,2016.56,0.09,2015.51,0.24,2014.72,0.33,2013.87,0.43,2013.54,0.37,2013.28,0.22,2013.02,0.07];
const cYellowLow = [2008.82,1.07,2009,1.06,2009.51,0.97,2010.16,0.96,2012.98,0.96,2013.28,1.01,2013.57,1.1,2013.41,1.21,2012.88,1.3,2012.13,1.38,2011.21,1.47,2009,1.45,2008.82,1.45];
const cIslands: [number, number[]][] = [
  [D,[2008.82,-1.86,2009,-1.86,2009.15,-1.66,2009,-1.45,2008.82,-1.45]],
  [W,[2008.82,-1.77,2009,-1.77,2009.11,-1.66,2009,-1.51,2008.82,-1.51]],
  [D,[2010.52,-1.9,2010.62,-2.04,2010.74,-1.9,2010.64,-1.74]],
  [B,[2015.87,-2.29,2016.03,-2.59,2016.35,-2.59,2016.37,-2.05,2016.16,-2.05]],
  [W,[2015.26,-2.18,2015.36,-2.29,2015.48,-2.16,2015.41,-2.05,2015.3,-2.07]],
  [W,[2015.71,-1.94,2015.87,-2.11,2016.07,-1.94,2015.97,-1.79,2015.77,-1.81]],
  [W,[2015.3,-1.56,2015.48,-1.62,2015.67,-1.57,2015.93,-1.6,2016.07,-1.45,2016,-1.3,2015.74,-1.28,2015.41,-1.39]],
  [O,[2016.67,-1.49,2016.82,-1.62,2017.08,-1.62,2017.08,-1.34,2016.82,-1.37]],
  [T,[2011.41,-0.61,2011.67,-0.72,2011.9,-0.87,2011.9,-1.11,2012.07,-1.21,2012.39,-1.25,2012.72,-1.15,2012.72,-0.98,2012.52,-0.79,2012.49,-0.61,2012.07,-0.46,2011.84,-0.42,2011.61,-0.48]],
  [W,[2011.18,-0.94,2011.39,-1.09,2011.61,-0.96,2011.61,-0.87,2011.41,-0.82,2011.23,-0.84]],
  [D,[2010.33,-0.48,2010.52,-0.6,2010.89,-0.61,2011.21,-0.51,2011.28,-0.31,2011.48,-0.12,2011.38,-0.06,2010.95,-0.01,2010.66,-0.08,2010.59,-0.16,2010.72,-0.31,2010.46,-0.4]],
  [W,[2010.53,-0.48,2010.67,-0.57,2010.98,-0.54,2011.05,-0.45,2010.85,-0.39,2010.62,-0.4]],
  [W,[2010.71,-0.11,2010.89,-0.23,2011.15,-0.23,2011.29,-0.12,2011.02,-0.05,2010.79,-0.06]],
  [D,[2012.24,-0.36,2012.46,-0.48,2012.72,-0.51,2012.93,-0.4,2012.82,-0.31,2012.43,-0.27]],
  [W,[2012.39,-0.36,2012.59,-0.44,2012.79,-0.42,2012.85,-0.34,2012.59,-0.3]],
  [D,[2012.77,-0.85,2012.98,-0.98,2013.08,-0.99,2013.28,-0.89,2013.25,-0.79,2013.05,-0.72,2012.85,-0.74]],
  [W,[2012.86,-0.85,2012.88,-0.93,2013.08,-0.94,2013.21,-0.87,2013.08,-0.76,2012.88,-0.76]],
  [B,[2011.59,0.3,2011.8,0.2,2012.26,0.15,2012.72,0.2,2012.87,0.3,2012.59,0.39,2012.13,0.43,2011.74,0.39]],
  [D,[2011.82,0.3,2012.07,0.22,2012.39,0.2,2012.67,0.3,2012.46,0.37,2012.07,0.37]],
  [W,[2011.97,0.3,2012.2,0.23,2012.43,0.24,2012.56,0.31,2012.33,0.36,2012.13,0.35]],
  [B,[2010.54,0.73,2010.79,0.63,2011.31,0.59,2011.74,0.61,2012.05,0.72,2011.8,0.81,2011.31,0.85,2010.75,0.81]],
  [D,[2010.8,0.73,2011.02,0.65,2011.48,0.63,2011.8,0.72,2011.48,0.78,2011.08,0.79]],
  [W,[2010.97,0.73,2011.18,0.67,2011.48,0.67,2011.64,0.72,2011.41,0.77,2011.15,0.78]],
  [B,[2014.13,-1.3,2014.3,-1.45,2014.48,-1.3,2014.33,-1.15]],
  [D,[2014.18,-1.3,2014.31,-1.39,2014.45,-1.3,2014.32,-1.19]],
  [W,[2014.23,-1.3,2014.32,-1.36,2014.41,-1.29,2014.32,-1.22]],
  [B,[2016.26,-1.11,2016.46,-1.24,2016.72,-1.11,2016.69,-0.99,2016.46,-0.95,2016.31,-1]],
  [D,[2016.33,-1.11,2016.48,-1.21,2016.67,-1.11,2016.62,-1.01,2016.43,-0.99]],
  [W,[2016.37,-1.1,2016.49,-1.18,2016.62,-1.09,2016.51,-1.01]],
  [B,[2014.94,-2.31,2014.98,-2.42,2015.04,-2.31,2014.98,-2.22]],
  [Y,[2009.65,-2.33,2009.97,-1.77,2010.2,-1.34,2010.35,-1,2010.33,-0.87,2009.93,-0.66,2009.51,-0.59,2009.25,-0.7,2009.11,-0.96,2009.21,-1.34,2009.38,-1.86]],
  [Y,[2014.77,-0.97,2014.98,-1.13,2015.21,-1.06,2015.67,-0.87,2015.61,-0.83,2015.18,-0.85]],
  [D,[2016.28,-0.63,2016.37,-0.63,2016.37,-0.61,2016.28,-0.61]],
  [O,[2014.11,-0.55,2014.3,-0.73,2014.72,-0.79,2015.31,-0.7,2015.77,-0.53,2016.08,-0.31,2015.97,-0.18,2015.51,-0.13,2014.98,-0.16,2014.52,-0.31,2014.23,-0.42]],
  [T,[2014.34,-0.57,2014.49,-0.69,2014.79,-0.72,2015.18,-0.61,2015.64,-0.44,2015.8,-0.29,2015.71,-0.21,2015.31,-0.18,2014.92,-0.31,2014.52,-0.46]],
  [B,[2014.46,-0.57,2014.59,-0.66,2014.85,-0.68,2015.15,-0.55,2015.57,-0.42,2015.69,-0.29,2015.57,-0.23,2015.25,-0.23,2015.05,-0.4,2014.85,-0.48,2014.56,-0.51]],
  [D,[2014.52,-0.59,2014.69,-0.67,2014.92,-0.63,2014.95,-0.54,2014.75,-0.48,2014.58,-0.51]],
  [W,[2014.66,-0.59,2014.75,-0.63,2014.85,-0.58,2014.77,-0.52,2014.67,-0.54]],
  [D,[2015.15,-0.33,2015.34,-0.43,2015.61,-0.38,2015.67,-0.29,2015.51,-0.24,2015.21,-0.25]],
  [W,[2015.26,-0.32,2015.38,-0.39,2015.5,-0.33,2015.38,-0.26]],
  [W,[2015.46,0.54,2015.64,0.47,2016.92,0.43,2017.08,0.43,2017.08,1.15,2016.92,1.1,2016.43,0.91,2016.11,0.8,2015.71,0.69]],
];

const panelA: [number, number[]][] = [[D, aDark], [B, aBlue], [T, aTeal], [O, aOlive], [Y, aYellow], [Y, aYellowLow], ...aIslands];
const panelB: [number, number[]][] = [[D, bDark], [W, bWhiteLow], [B, bBlueLeft], [T, bTealLeft], [B, bBlue], [T, bTeal], [O, bOlive], [Y, bYellow], ...bIslands];
const panelC: [number, number[]][] = [[D, cDark], [B, cBlue], [T, cTeal], [O, cOlive], [Y, cYellowLeft], [Y, cYellow], [Y, cYellowLow], ...cIslands];
const panelD = panelA;

const titles = ["(a)", "(b)", "(c)", "(d)"];
const panels = [panelA, panelB, panelC, panelD];
const dataEnd = [2016.93, 2016.93, 2016.93, 2016.93];
const xMax = [2017, 2017.04, 2017, 2017.04];
const yMin = -2.537, yMax = 1.467;
const fontFamily = "'Liberation Sans', Arial, sans-serif";
const tickColor = "#404040";

const toPairs = (flat: number[]) => {
  const out: number[][] = [];
  for (let i = 0; i + 1 < flat.length; i += 2) out.push([flat[i], flat[i + 1]]);
  return out;
};

const grids = [
  { left: 107, top: 44, width: 407, height: 311 },
  { left: 642, top: 44, width: 410, height: 311 },
  { left: 107, top: 477, width: 407, height: 311 },
  { left: 642, top: 477, width: 410, height: 311 },
];

function buildOption() {
  const grid: any[] = [];
  const xAxis: any[] = [];
  const yAxis: any[] = [];
  const series: any[] = [];
  const title: any[] = [];
  const line = { show: true, onZero: false, lineStyle: { color: tickColor, width: 1 } };
  const tick = (customValues: number[]) => ({ show: true, inside: true, length: 5, customValues, lineStyle: { color: tickColor, width: 1 } });

  panels.forEach((shapes, p) => {
    const g = grids[p];
    grid.push({ ...g, show: true, backgroundColor: "#fff", borderWidth: 0 });
    const xLog = yearTicks;
    const yLog = periodTicks.map(Math.log2);
    const gi = p;
    const xBase = xAxis.length, yBase = yAxis.length;
    xAxis.push({
      type: "value", gridIndex: gi, min: 2009, max: xMax[p], position: "bottom", z: 10, axisLine: line, splitLine: { show: false },
      axisTick: tick(xLog), axisLabel: { customValues: xLog, color: tickColor, fontSize: 25, fontFamily, margin: 14, formatter: (v: number) => String(v) },
    });
    xAxis.push({
      type: "value", gridIndex: gi, min: 2009, max: xMax[p], position: "top", z: 10, axisLine: line, splitLine: { show: false },
      axisTick: tick(xLog), axisLabel: { show: false },
    });
    yAxis.push({
      type: "value", gridIndex: gi, min: yMin, max: yMax, inverse: true, position: "left", z: 10, axisLine: line, splitLine: { show: false },
      axisTick: tick(yLog), axisLabel: { customValues: yLog, align: "center", color: tickColor, fontSize: 25, fontFamily, margin: 36, formatter: (v: number) => String(Math.pow(2, v)) },
      name: "Period (years)", nameLocation: "middle", nameGap: 67, nameTextStyle: { color: tickColor, fontSize: 30, fontFamily },
    });
    yAxis.push({
      type: "value", gridIndex: gi, min: yMin, max: yMax, inverse: true, position: "right", z: 10, axisLine: line, splitLine: { show: false },
      axisTick: tick(yLog), axisLabel: { show: false },
    });
    const strip = [dataEnd[p], yMin - 0.1, 2017.2, yMin - 0.1, 2017.2, yMax + 0.1, dataEnd[p], yMax + 0.1];
    series.push({
      type: "custom", xAxisIndex: xBase, yAxisIndex: yBase, clip: true, silent: true, z: 2,
      data: [...shapes.map(() => [2013, 0]), [2013, 0]],
      renderItem: (params: any, api: any) => {
        const i = params.dataIndex;
        if (i === shapes.length) {
          return { type: "polygon", shape: { points: toPairs(strip).map((c) => api.coord(c)) }, style: { fill: "#fff", stroke: "none" } };
        }
        const [level, flat] = shapes[i];
        return {
          type: "polygon",
          shape: { points: toPairs(flat).map((c) => api.coord(c)), smooth: 0.35 },
          style: { fill: levelColors[level], stroke: "#000", lineWidth: 1.4 },
        };
      },
    });
    [coiLeft, coiRight].forEach((coi) => {
      series.push({
        type: "line", xAxisIndex: xBase, yAxisIndex: yBase, data: toPairs(coi), smooth: true, showSymbol: false, silent: true, z: 3, clip: true,
        lineStyle: { color: "#000", width: 1.3 },
      });
    });
    const cx = p % 2 === 0 ? 309 : 845;
    title.push({
      text: titles[p], left: cx - 21, top: g.top - 39,
      textStyle: { color: "#111", fontSize: 26, fontWeight: "normal", fontFamily },
    });
  });

  // Colour bar
  const cb = { left: 1081, top: 258, width: 22, height: 314 };
  grid.push({ ...cb, show: false });
  const cbIdx = grid.length - 1;
  const cx = xAxis.length, cy = yAxis.length;
  xAxis.push({
    type: "value", gridIndex: cbIdx, min: 0, max: 1, position: "bottom", z: 10, axisLine: { ...line, lineStyle: { color: "#262626", width: 1 } },
    axisTick: { show: false }, axisLabel: { show: false }, splitLine: { show: false },
  });
  xAxis.push({
    type: "value", gridIndex: cbIdx, min: 0, max: 1, position: "top", z: 10, axisLine: { ...line, lineStyle: { color: "#262626", width: 1 } },
    axisTick: { show: false }, axisLabel: { show: false }, splitLine: { show: false },
  });
  yAxis.push({
    type: "value", gridIndex: cbIdx, min: -3, max: 1, position: "right", z: 10, axisLine: { ...line, lineStyle: { color: "#262626", width: 1 } }, splitLine: { show: false },
    axisTick: { show: true, inside: true, length: 3, customValues: barTicks, lineStyle: { color: "#262626" } },
    axisLabel: {
      customValues: barTicks, color: tickColor, fontSize: 25, fontFamily, margin: 9,
      formatter: (v: number) => (v >= 0 ? String(Math.pow(2, v)) : "1/" + Math.pow(2, -v)),
    },
  });
  yAxis.push({
    type: "value", gridIndex: cbIdx, min: -3, max: 1, position: "left", z: 10, axisLine: { ...line, lineStyle: { color: "#262626", width: 1 } }, splitLine: { show: false },
    axisTick: { show: false }, axisLabel: { show: false },
  });
  series.push({
    type: "custom", xAxisIndex: cx, yAxisIndex: cy, silent: true, z: 2, data: [[0, -3]],
    renderItem: (_: any, api: any) => {
      const a = api.coord([0, 1]);
      const b = api.coord([1, -3]);
      return {
        type: "rect",
        shape: { x: a[0], y: a[1], width: b[0] - a[0], height: b[1] - a[1] },
        style: {
          fill: new echarts.graphic.LinearGradient(0, 1, 0, 0, barStops.map(([offset, color]) => ({ offset: offset as number, color: color as string }))),
        },
      };
    },
  });

  return { animation: false, backgroundColor: "#fff", grid, xAxis, yAxis, series, title };
}

export default function App() {
  const ref = useRef<HTMLDivElement>(null);
  useEffect(() => {
    document.body.style.margin = "0";
    const chart = echarts.init(ref.current!, undefined, { renderer: "svg" });
    chart.setOption(buildOption() as any);
    return () => chart.dispose();
  }, []);
  return <div ref={ref} style={{ width: 1157, height: 827 }} />;
}
